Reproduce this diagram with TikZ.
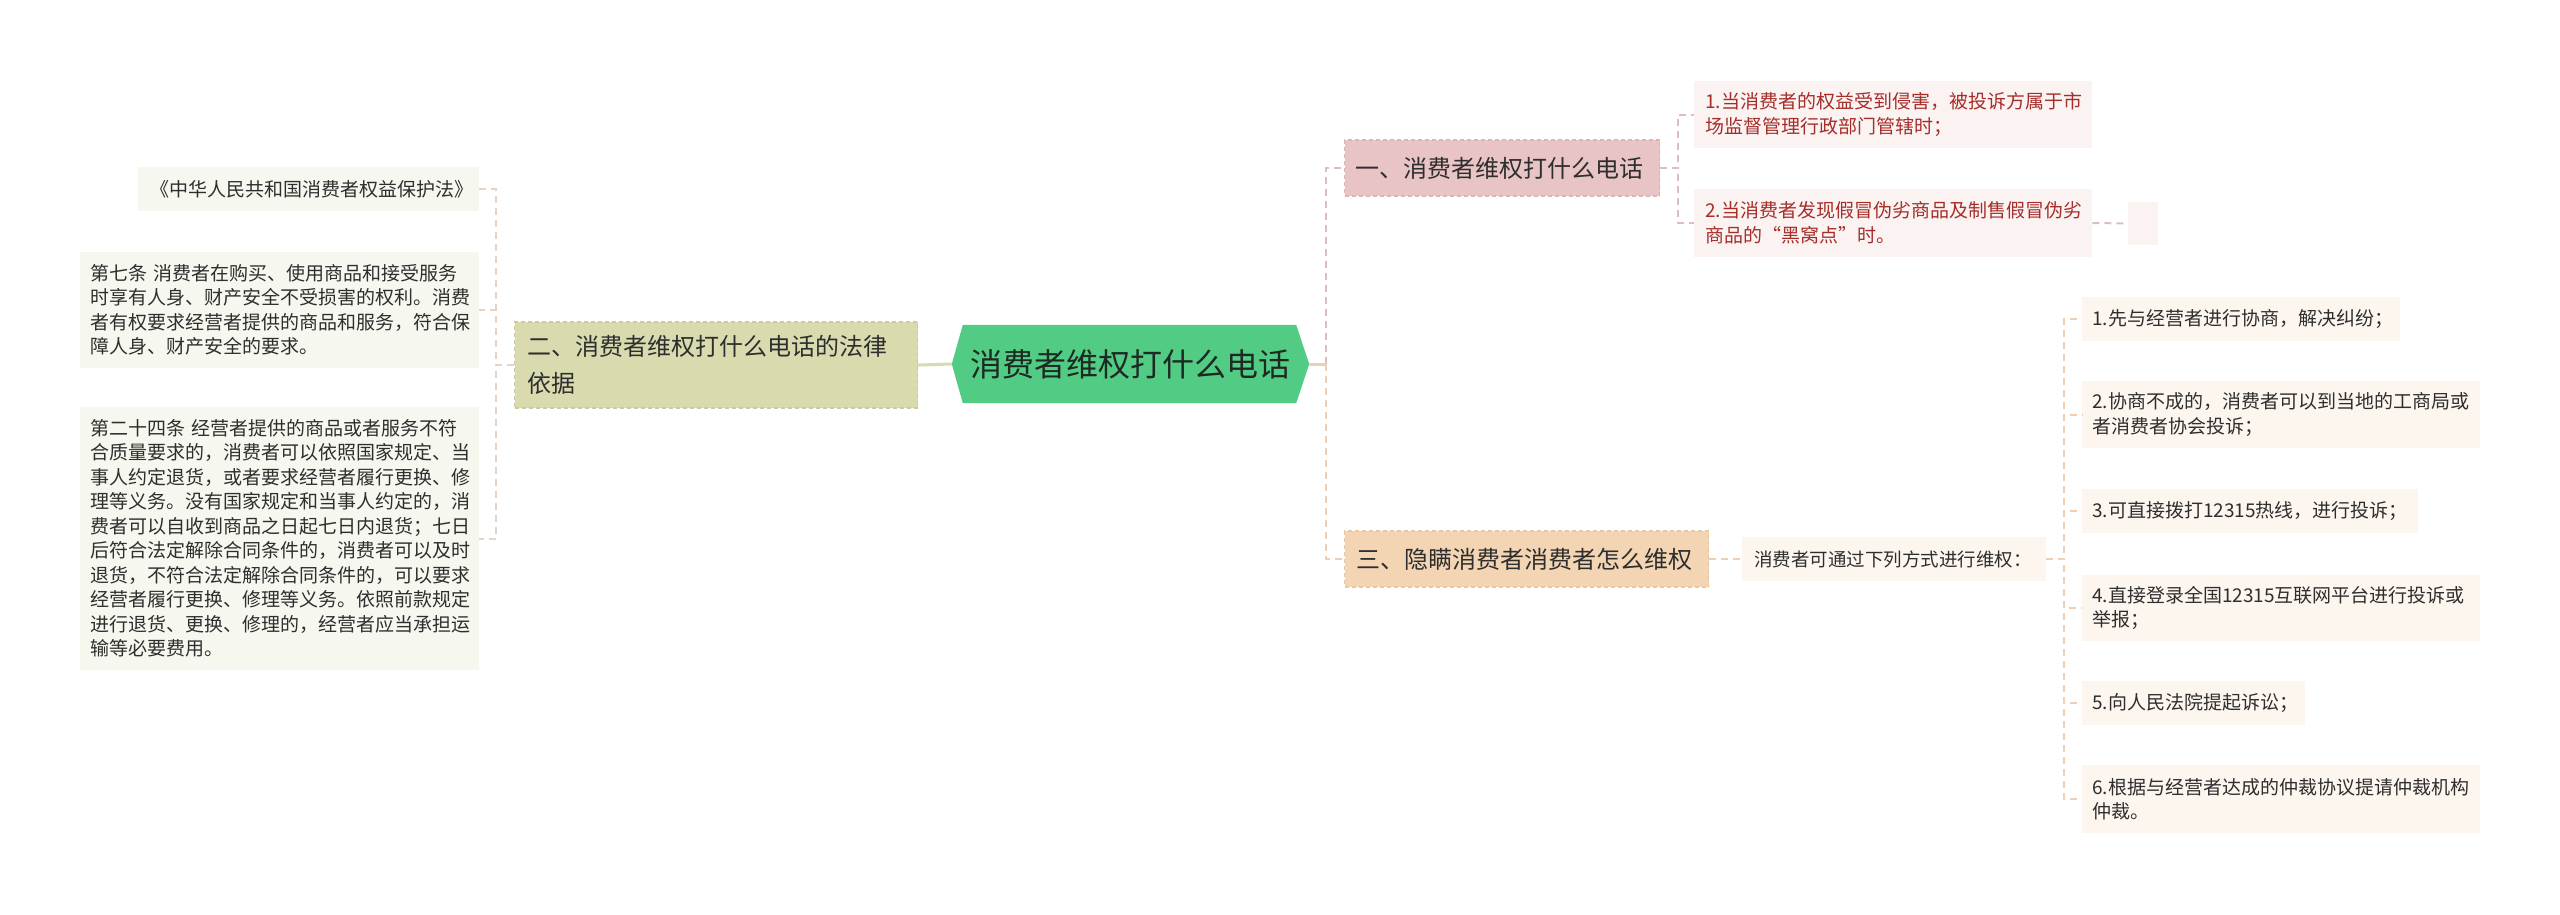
\documentclass[tikz,border=0pt]{standalone}
\usepackage{fontspec}
\setmainfont{Noto Sans CJK SC}
\usetikzlibrary{backgrounds}
\definecolor{cgreen}{HTML}{52CC84}
\definecolor{ctitle}{HTML}{1C2A22}
\definecolor{colive}{HTML}{D9DBAF}
\definecolor{coliveD}{HTML}{CACC9C}
\definecolor{cleaf}{HTML}{F6F7EF}
\definecolor{cpink}{HTML}{E9C4C4}
\definecolor{cpinkD}{HTML}{DDB4B4}
\definecolor{cpleaf}{HTML}{FBF2F2}
\definecolor{cred}{HTML}{A52E2A}
\definecolor{cpeach}{HTML}{F3D5B4}
\definecolor{cpeachD}{HTML}{E8C7A3}
\definecolor{cpeleaf}{HTML}{FDF6EF}
\definecolor{lineL}{HTML}{E5D3C6}
\definecolor{lineP}{HTML}{DDBDBD}
\definecolor{lineO}{HTML}{EDD0B3}
\definecolor{ctext}{HTML}{2E2E2E}
\tikzset{
  bx/.style n args={3}{anchor=west, minimum width=#1pt, text width={#1pt-2*#3pt},
    inner xsep=#3pt, minimum height=#2pt, inner ysep=1pt, align=left},
  small/.style={font=\fontsize{19pt}{24.5pt}\selectfont, text=ctext},
  big/.style={font=\fontsize{24pt}{37pt}\selectfont, text=ctext},
  conn/.style={line width=2pt, dash pattern=on 7pt off 5pt},
  branchbox/.style={line width=1.2pt, dash pattern=on 4pt off 3pt},
}
\begin{document}
\begin{tikzpicture}[x=1pt,y=-1pt]
\useasboundingbox (0,0) rectangle (2560,914);
% centre
\node[font=\fontsize{32pt}{38pt}\selectfont, text=ctitle, minimum width=357pt,
  minimum height=78pt, inner sep=0pt] (C) at (1130.5,364) {消费者维权打什么电话};
\begin{pgfonlayer}{background}
\fill[cgreen] (C.west) -- ([xshift=11pt]C.north west) -- ([xshift=-13pt]C.north east)
  -- (C.east) -- ([xshift=-13pt]C.south east) -- ([xshift=11pt]C.south west) -- cycle;
\end{pgfonlayer}
% left branch
\node[bx={403}{86}{13}, fill=colive, draw=coliveD, branchbox, big] (B2) at (514,365)
  {二、消费者维权打什么电话的法律\\依据};
\node[bx={341}{44}{12}, fill=cleaf, small] (L1) at (138,189) {《中华人民共和国消费者权益保护法》};
\node[bx={399}{116}{10}, fill=cleaf, small] (L2) at (80,310)
  {第七条 消费者在购买、使用商品和接受服务\\时享有人身、财产安全不受损害的权利。消费\\者有权要求经营者提供的商品和服务，符合保\\障人身、财产安全的要求。};
\node[bx={399}{263}{10}, fill=cleaf, small] (L3) at (80,538.5)
  {第二十四条 经营者提供的商品或者服务不符\\合质量要求的，消费者可以依照国家规定、当\\事人约定退货，或者要求经营者履行更换、修\\理等义务。没有国家规定和当事人约定的，消\\费者可以自收到商品之日起七日内退货；七日\\后符合法定解除合同条件的，消费者可以及时\\退货，不符合法定解除合同条件的，可以要求\\经营者履行更换、修理等义务。依照前款规定\\进行退货、更换、修理的，经营者应当承担运\\输等必要费用。};
% right branch one
\node[bx={315}{56}{11}, fill=cpink, draw=cpinkD, branchbox, big] (B1) at (1344,168)
  {一、消费者维权打什么电话};
\node[bx={398}{67}{11}, fill=cpleaf, small, text=cred] (R1a) at (1694,114.5)
  {1.当消费者的权益受到侵害，被投诉方属于市\\场监督管理行政部门管辖时；};
\node[bx={398}{68}{11}, fill=cpleaf, small, text=cred] (R1b) at (1694,223)
  {2.当消费者发现假冒伪劣商品及制售假冒伪劣\\商品的“黑窝点”时。};
\node[anchor=west, minimum width=30pt, minimum height=43pt, inner sep=0pt, fill=cpleaf] (E) at (2128,223.5) {};
% right branch three
\node[bx={364}{56}{12}, fill=cpeach, draw=cpeachD, branchbox, big] (B3) at (1344,559)
  {三、隐瞒消费者消费者怎么维权};
\node[bx={304}{44}{12}, fill=cpeleaf, font=\fontsize{18.5pt}{24pt}\selectfont, text=ctext] (M) at (1742,559)
  {消费者可通过下列方式进行维权：};
\node[bx={318}{44}{10}, fill=cpeleaf, small] (P1) at (2082,319) {1.先与经营者进行协商，解决纠纷；};
\node[bx={398}{67}{10}, fill=cpeleaf, small] (P2) at (2082,414.5) {2.协商不成的，消费者可以到当地的工商局或\\者消费者协会投诉；};
\node[bx={336}{44}{10}, fill=cpeleaf, small] (P3) at (2082,511) {3.可直接拨打12315热线，进行投诉；};
\node[bx={398}{66}{10}, fill=cpeleaf, small] (P4) at (2082,608) {4.直接登录全国12315互联网平台进行投诉或\\举报；};
\node[bx={223}{44}{10}, fill=cpeleaf, small] (P5) at (2082,703) {5.向人民法院提起诉讼；};
\node[bx={398}{68}{10}, fill=cpeleaf, small] (P6) at (2082,799) {6.根据与经营者达成的仲裁协议提请仲裁机构\\仲裁。};
% connectors
\draw[line width=3pt, colive] (C.west) -- (B2.east);
\foreach \n in {L1,L2,L3} \draw[conn, lineL] (B2.west) -- ++(-18,0) |- (\n.east);
\coordinate (RT) at (1326,364);
\draw[line width=3pt, lineO] (C.east) -- (RT);
\draw[conn, lineP] (RT) |- (B1.west);
\draw[conn, lineO] (RT) |- (B3.west);
\foreach \n in {R1a,R1b} \draw[conn, lineP] (B1.east) -- ++(18,0) |- (\n.west);
\draw[conn, lineP] (R1b.east) -- (E.west);
\draw[conn, lineO] (B3.east) -- (M.west);
\foreach \n in {P1,P2,P3,P4,P5,P6} \draw[conn, lineO] (M.east) -- ++(18,0) |- (\n.west);
\end{tikzpicture}
\end{document}
